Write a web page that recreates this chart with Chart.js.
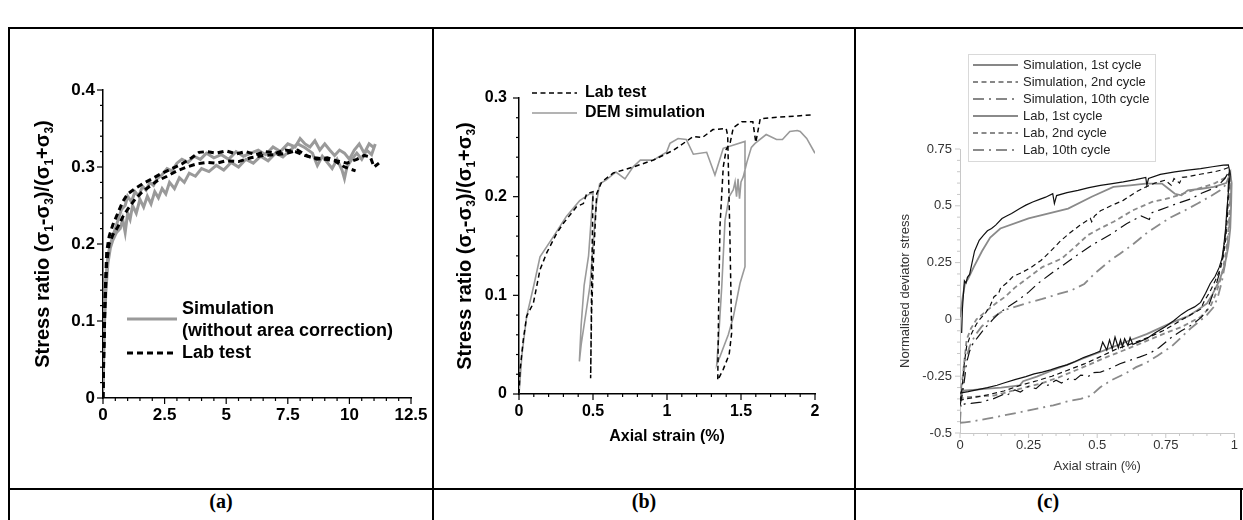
<!DOCTYPE html>
<html>
<head>
<meta charset="utf-8">
<script src="https://cdn.jsdelivr.net/npm/chart.js"></script>
<style>
  body { margin: 0; background: #fff; width: 1243px; height: 520px; overflow: hidden; position: relative; }
  canvas { position: absolute; left: 0; top: 0; }
  .ln { position: absolute; background: #000; }
  .cap { position: absolute; top: 490px; height: 30px; line-height: 30px; text-align: center;
         font: bold 20px "Liberation Serif", "Times New Roman", serif; color: #000; }
</style>
</head>
<body>
<!-- table frame -->
<div class="ln" style="left:8px;top:27px;width:1235px;height:2px"></div>
<div class="ln" style="left:8px;top:27px;width:2px;height:493px"></div>
<div class="ln" style="left:432px;top:27px;width:1.5px;height:493px"></div>
<div class="ln" style="left:854px;top:27px;width:1.5px;height:493px"></div>
<div class="ln" style="left:8px;top:488px;width:1235px;height:2px"></div>
<div class="ln" style="left:1240px;top:488px;width:2px;height:32px"></div>
<div class="cap" style="left:10px;width:422px">(a)</div>
<div class="cap" style="left:434px;width:420px">(b)</div>
<div class="cap" style="left:856px;width:384px">(c)</div>

<canvas id="ca" width="1243" height="520"></canvas>
<canvas id="cb" width="1243" height="520"></canvas>
<canvas id="cc" width="1243" height="520"></canvas>

<script>
const FONT = '"Liberation Sans", Arial, sans-serif';

/* =========================
   DATA (a) - monotonic test
========================= */
const simA1Strain = [0, 0.05, 0.1, 0.2, 0.3, 0.45, 0.6, 0.75, 0.9, 1.0, 1.15, 1.3, 1.45, 1.6, 1.75, 1.9, 2.05, 2.2, 2.4, 2.6, 2.8, 3.0, 3.2, 3.45, 3.7, 3.95, 4.2, 4.5, 4.8, 5.1, 5.4, 5.7, 6.0, 6.3, 6.6, 6.9, 7.2, 7.5, 7.8, 8.0, 8.2, 8.4, 8.6, 8.8, 9.0, 9.2, 9.4, 9.6, 9.8, 10.0, 10.2, 10.4, 10.6, 10.8, 11.0];
const simA1Ratio  = [0.02, 0.11, 0.15, 0.185, 0.2, 0.215, 0.23, 0.245, 0.25, 0.262, 0.255, 0.268, 0.262, 0.275, 0.27, 0.28, 0.276, 0.285, 0.29, 0.298, 0.295, 0.305, 0.31, 0.306, 0.314, 0.31, 0.318, 0.312, 0.316, 0.31, 0.32, 0.314, 0.318, 0.322, 0.316, 0.326, 0.32, 0.33, 0.326, 0.337, 0.33, 0.326, 0.334, 0.322, 0.33, 0.322, 0.315, 0.322, 0.318, 0.31, 0.322, 0.33, 0.318, 0.33, 0.325];

const simA2Strain = [0, 0.05, 0.12, 0.2, 0.3, 0.4, 0.55, 0.7, 0.8, 0.9, 1.0, 1.1, 1.2, 1.35, 1.5, 1.65, 1.8, 1.95, 2.1, 2.25, 2.4, 2.55, 2.7, 2.9, 3.1, 3.3, 3.5, 3.75, 4.0, 4.3, 4.6, 4.9, 5.2, 5.5, 5.8, 6.1, 6.4, 6.7, 7.0, 7.3, 7.6, 7.9, 8.2, 8.5, 8.7, 8.9, 9.1, 9.3, 9.5, 9.7, 9.8, 9.9, 10.1, 10.3, 10.5, 10.7, 10.9, 11.05];
const simA2Ratio  = [0.01, 0.09, 0.14, 0.175, 0.195, 0.205, 0.215, 0.22, 0.232, 0.215, 0.24, 0.232, 0.25, 0.24, 0.258, 0.248, 0.262, 0.252, 0.268, 0.26, 0.272, 0.265, 0.28, 0.272, 0.286, 0.28, 0.292, 0.288, 0.298, 0.294, 0.302, 0.296, 0.306, 0.3, 0.31, 0.305, 0.314, 0.308, 0.318, 0.313, 0.322, 0.33, 0.325, 0.318, 0.302, 0.314, 0.306, 0.298, 0.31, 0.296, 0.285, 0.3, 0.31, 0.318, 0.31, 0.322, 0.316, 0.33];

const labA1Strain = [0, 0.03, 0.08, 0.15, 0.25, 0.4, 0.6, 0.8, 1.0, 1.3, 1.6, 2.0, 2.4, 2.8, 3.2, 3.6, 3.9, 4.2, 4.6, 5.0, 5.4, 5.8, 6.2, 6.6, 7.0, 7.4, 7.8, 8.2, 8.6, 9.0, 9.4, 9.8, 10.25];
const labA1Ratio  = [0, 0.06, 0.13, 0.19, 0.21, 0.225, 0.24, 0.255, 0.265, 0.272, 0.278, 0.285, 0.292, 0.298, 0.304, 0.312, 0.319, 0.32, 0.318, 0.321, 0.317, 0.32, 0.316, 0.32, 0.318, 0.322, 0.32, 0.315, 0.312, 0.31, 0.308, 0.3, 0.295];

const labA2Strain = [0, 0.03, 0.08, 0.15, 0.25, 0.4, 0.6, 0.8, 1.0, 1.3, 1.6, 1.9, 2.2, 2.6, 3.0, 3.4, 3.8, 4.2, 4.6, 5.0, 5.5, 6.0, 6.5, 7.0, 7.5, 7.9, 8.3, 8.7, 9.1, 9.5, 9.9, 10.3, 10.6, 10.85, 11.0, 11.2];
const labA2Ratio  = [0, 0.05, 0.12, 0.175, 0.2, 0.212, 0.222, 0.235, 0.245, 0.258, 0.268, 0.275, 0.282, 0.288, 0.295, 0.3, 0.304, 0.306, 0.305, 0.308, 0.307, 0.312, 0.315, 0.316, 0.318, 0.322, 0.314, 0.31, 0.312, 0.308, 0.305, 0.31, 0.315, 0.313, 0.3, 0.305];

/* =========================
   DATA (b) - unload/reload
========================= */
const labBStrain = [0, 0.007, 0.029, 0.052, 0.097, 0.142, 0.187, 0.255, 0.30, 0.39, 0.435, 0.457, 0.50, 0.49, 0.484, 0.49, 0.503, 0.525, 0.559, 0.637, 0.77, 0.907, 1.043, 1.178, 1.24, 1.31, 1.40, 1.41, 1.425, 1.437, 1.42, 1.38, 1.343, 1.348, 1.358, 1.38, 1.40, 1.426, 1.448, 1.505, 1.58, 1.60, 1.63, 1.70, 1.80, 1.90, 1.99];
const labBRatio  = [0, 0.024, 0.055, 0.079, 0.092, 0.126, 0.143, 0.163, 0.173, 0.19, 0.193, 0.203, 0.205, 0.1, 0.016, 0.08, 0.136, 0.203, 0.215, 0.224, 0.23, 0.237, 0.247, 0.261, 0.26, 0.268, 0.269, 0.262, 0.16, 0.062, 0.04, 0.025, 0.014, 0.08, 0.17, 0.23, 0.248, 0.254, 0.27, 0.276, 0.276, 0.255, 0.279, 0.28, 0.281, 0.282, 0.283];

const demBStrain = [0, 0.02, 0.052, 0.1, 0.142, 0.23, 0.32, 0.41, 0.48, 0.50, 0.47, 0.44, 0.42, 0.408, 0.42, 0.45, 0.48, 0.50, 0.52, 0.545, 0.59, 0.655, 0.716, 0.77, 0.82, 0.907, 0.997, 1.02, 1.075, 1.13, 1.178, 1.268, 1.324, 1.38, 1.527, 1.527, 1.493, 1.448, 1.414, 1.358, 1.336, 1.347, 1.37, 1.392, 1.42, 1.448, 1.46, 1.47, 1.48, 1.49, 1.50, 1.515, 1.54, 1.57, 1.595, 1.67, 1.74, 1.78, 1.83, 1.88, 1.90, 1.944, 2.0];
const demBRatio  = [0, 0.04, 0.079, 0.11, 0.139, 0.159, 0.18, 0.196, 0.203, 0.203, 0.14, 0.11, 0.07, 0.033, 0.05, 0.08, 0.11, 0.15, 0.19, 0.213, 0.217, 0.225, 0.218, 0.23, 0.237, 0.237, 0.245, 0.254, 0.259, 0.258, 0.243, 0.245, 0.222, 0.249, 0.256, 0.129, 0.112, 0.078, 0.06, 0.038, 0.03, 0.053, 0.109, 0.176, 0.2, 0.207, 0.215, 0.2, 0.218, 0.198, 0.215, 0.22, 0.235, 0.25, 0.254, 0.263, 0.258, 0.258, 0.266, 0.267, 0.266, 0.259, 0.244];

/* =========================
   DATA (c) - cyclic loops [strain, normalised q]
========================= */
const simC1 = [[0.006,-0.06],[0.009,0.05],[0.016,0.17],[0.022,0.16],[0.027,0.185],[0.035,0.198],[0.044,0.25],[0.053,0.30],[0.07,0.348],[0.085,0.37],[0.1,0.39],[0.115,0.40],[0.13,0.415],[0.153,0.444],[0.17,0.455],[0.188,0.466],[0.218,0.488],[0.24,0.503],[0.265,0.517],[0.29,0.528],[0.312,0.538],[0.338,0.553],[0.344,0.51],[0.352,0.545],[0.39,0.558],[0.43,0.568],[0.47,0.58],[0.512,0.59],[0.555,0.598],[0.595,0.605],[0.64,0.615],[0.677,0.625],[0.681,0.59],[0.687,0.62],[0.73,0.638],[0.783,0.649],[0.83,0.657],[0.877,0.664],[0.92,0.672],[0.96,0.679],[0.978,0.68],
  [0.985,0.64],[0.978,0.56],[0.972,0.47],[0.968,0.40],[0.962,0.33],[0.955,0.27],[0.945,0.23],[0.93,0.19],[0.912,0.158],[0.895,0.115],[0.877,0.075],[0.855,0.055],[0.83,0.04],[0.807,0.022],[0.78,-0.005],[0.748,-0.032],[0.71,-0.06],[0.68,-0.085],[0.65,-0.1],[0.63,-0.11],[0.62,-0.08],[0.612,-0.115],[0.6,-0.085],[0.592,-0.12],[0.585,-0.09],[0.577,-0.125],[0.565,-0.078],[0.555,-0.13],[0.545,-0.09],[0.535,-0.135],[0.52,-0.1],[0.51,-0.14],[0.49,-0.15],[0.45,-0.168],[0.42,-0.185],[0.39,-0.2],[0.36,-0.21],[0.33,-0.222],[0.3,-0.232],[0.27,-0.24],[0.24,-0.252],[0.2,-0.265],[0.16,-0.28],[0.135,-0.29],[0.1,-0.3],[0.06,-0.31],[0.03,-0.318],[0.01,-0.322],[0,-0.325]];

const simC2 = [[0,-0.36],[0.008,-0.3],[0.015,-0.2],[0.024,-0.12],[0.035,-0.08],[0.047,-0.05],[0.06,-0.02],[0.072,0.0],[0.094,0.03],[0.11,0.06],[0.124,0.1],[0.141,0.115],[0.148,0.139],[0.17,0.16],[0.194,0.19],[0.224,0.205],[0.26,0.23],[0.295,0.259],[0.33,0.3],[0.366,0.345],[0.4,0.38],[0.437,0.414],[0.475,0.445],[0.48,0.43],[0.49,0.455],[0.512,0.478],[0.55,0.5],[0.595,0.524],[0.64,0.56],[0.677,0.583],[0.71,0.6],[0.748,0.613],[0.77,0.59],[0.78,0.62],[0.8,0.6],[0.81,0.625],[0.83,0.628],[0.88,0.64],[0.925,0.649],[0.96,0.66],[0.982,0.67],
  [0.98,0.6],[0.975,0.46],[0.968,0.35],[0.96,0.28],[0.948,0.22],[0.93,0.17],[0.91,0.12],[0.89,0.08],[0.877,0.045],[0.84,0.02],[0.81,0.0],[0.783,-0.02],[0.74,-0.05],[0.689,-0.078],[0.63,-0.105],[0.571,-0.13],[0.51,-0.165],[0.453,-0.196],[0.39,-0.225],[0.335,-0.25],[0.28,-0.27],[0.22,-0.29],[0.16,-0.315],[0.1,-0.332],[0.05,-0.344],[0.018,-0.35],[0,-0.357]];

const simC10 = [[0,-0.38],[0.01,-0.32],[0.018,-0.25],[0.024,-0.19],[0.035,-0.14],[0.047,-0.107],[0.07,-0.07],[0.094,-0.034],[0.12,0.0],[0.141,0.026],[0.175,0.055],[0.212,0.085],[0.25,0.12],[0.283,0.157],[0.33,0.2],[0.383,0.245],[0.435,0.29],[0.489,0.333],[0.55,0.375],[0.607,0.421],[0.66,0.455],[0.69,0.44],[0.7,0.47],[0.724,0.48],[0.78,0.505],[0.842,0.531],[0.88,0.555],[0.936,0.583],[0.965,0.62],[0.98,0.65],
  [0.975,0.5],[0.968,0.38],[0.958,0.28],[0.945,0.2],[0.93,0.14],[0.915,0.09],[0.9,0.04],[0.88,0.01],[0.85,-0.02],[0.807,-0.05],[0.77,-0.08],[0.725,-0.125],[0.69,-0.15],[0.654,-0.166],[0.62,-0.18],[0.583,-0.195],[0.55,-0.215],[0.512,-0.232],[0.48,-0.235],[0.47,-0.25],[0.44,-0.245],[0.42,-0.265],[0.395,-0.262],[0.37,-0.28],[0.35,-0.268],[0.32,-0.29],[0.3,-0.28],[0.277,-0.305],[0.25,-0.295],[0.22,-0.32],[0.2,-0.31],[0.17,-0.335],[0.159,-0.33],[0.12,-0.35],[0.077,-0.364],[0.04,-0.37],[0.018,-0.372],[0,-0.38]];

const labC1 = [[0,0.01],[0.01,0.1],[0.018,0.157],[0.03,0.18],[0.05,0.23],[0.08,0.3],[0.11,0.36],[0.147,0.40],[0.25,0.445],[0.394,0.488],[0.48,0.54],[0.559,0.583],[0.62,0.59],[0.677,0.598],[0.736,0.598],[0.76,0.575],[0.783,0.553],[0.807,0.546],[0.83,0.568],[0.88,0.575],[0.925,0.583],[0.97,0.6],[0.985,0.64],
  [0.99,0.6],[0.988,0.5],[0.985,0.4],[0.978,0.32],[0.965,0.24],[0.945,0.17],[0.92,0.11],[0.9,0.07],[0.865,0.04],[0.83,0.013],[0.78,-0.01],[0.736,-0.034],[0.68,-0.065],[0.618,-0.093],[0.54,-0.13],[0.453,-0.17],[0.39,-0.2],[0.335,-0.225],[0.28,-0.252],[0.23,-0.272],[0.218,-0.29],[0.15,-0.3],[0.1,-0.305],[0.05,-0.31],[0.018,-0.313],[0,-0.32]];

const labC2 = [[0,-0.34],[0.01,-0.25],[0.024,-0.09],[0.04,-0.04],[0.06,0.0],[0.094,0.035],[0.13,0.07],[0.165,0.1],[0.2,0.14],[0.25,0.185],[0.3,0.23],[0.371,0.268],[0.42,0.32],[0.465,0.37],[0.51,0.4],[0.56,0.43],[0.63,0.48],[0.7,0.517],[0.75,0.53],[0.795,0.546],[0.84,0.565],[0.889,0.583],[0.93,0.6],[0.972,0.627],[0.985,0.65],
  [0.985,0.55],[0.98,0.42],[0.97,0.3],[0.955,0.2],[0.935,0.12],[0.912,0.055],[0.877,0.011],[0.807,-0.034],[0.76,-0.055],[0.713,-0.078],[0.66,-0.105],[0.595,-0.137],[0.53,-0.168],[0.477,-0.196],[0.42,-0.225],[0.36,-0.255],[0.3,-0.28],[0.22,-0.305],[0.124,-0.335],[0.06,-0.34],[0.018,-0.343],[0,-0.35]];

const labC10 = [[0,-0.455],[0.005,-0.35],[0.012,-0.25],[0.02,-0.18],[0.035,-0.12],[0.055,-0.07],[0.08,-0.03],[0.11,0.0],[0.159,0.04],[0.2,0.055],[0.253,0.075],[0.3,0.09],[0.359,0.112],[0.406,0.128],[0.453,0.156],[0.489,0.2],[0.548,0.26],[0.583,0.289],[0.63,0.33],[0.677,0.377],[0.73,0.42],[0.771,0.451],[0.82,0.48],[0.866,0.51],[0.91,0.54],[0.948,0.568],[0.975,0.6],[0.985,0.63],
  [0.985,0.5],[0.98,0.38],[0.97,0.27],[0.955,0.17],[0.94,0.1],[0.925,0.055],[0.9,0.02],[0.877,-0.004],[0.84,-0.04],[0.807,-0.078],[0.77,-0.12],[0.72,-0.16],[0.68,-0.19],[0.642,-0.21],[0.6,-0.24],[0.548,-0.27],[0.51,-0.3],[0.477,-0.336],[0.44,-0.35],[0.395,-0.36],[0.34,-0.378],[0.277,-0.394],[0.22,-0.408],[0.159,-0.423],[0.1,-0.437],[0.04,-0.45],[0.018,-0.453],[0,-0.455]];

const legendC = ["Simulation, 1st cycle", "Simulation, 2nd cycle", "Simulation, 10th cycle", "Lab, 1st cycle", "Lab, 2nd cycle", "Lab, 10th cycle"];

/* =========================
   HELPERS
========================= */
Chart.defaults.font.family = FONT;
Chart.defaults.animation = false;

function xy(xs, ys) { return xs.map((x, i) => ({ x: x, y: ys[i] })); }
function pairs(list) { return list.map(p => ({ x: p[0], y: p[1] })); }

function series(label, data, color, width, dash) {
  return {
    label: label, data: data, showLine: true,
    borderColor: color, borderWidth: width, borderDash: dash || [],
    pointRadius: 0, pointHoverRadius: 0, fill: false, tension: 0
  };
}

function axis(o) {
  return {
    type: "linear", min: o.min, max: o.max,
    afterFit: s => { if (s.isHorizontal()) s.height = 30; else s.width = 60; },
    grid: { display: false, drawTicks: false },
    border: { display: true, color: o.line, width: o.lineWidth },
    ticks: {
      stepSize: o.step, padding: o.pad, color: o.color, font: o.font, maxRotation: 0, autoSkip: false,
      callback: v => String(parseFloat(v.toFixed(3)))
    }
  };
}

// major + minor tick marks drawn on the outside of both axes
const tickMarks = {
  id: "tickMarks",
  afterDraw(chart, args, o) {
    const ctx = chart.ctx, a = chart.chartArea;
    ctx.save();
    ctx.strokeStyle = o.color;
    ctx.lineWidth = o.width;
    ["x", "y"].forEach(k => {
      const s = chart.scales[k], st = o[k];
      const n = Math.round((s.max - s.min) / st.minor);
      for (let i = 0; i <= n; i++) {
        const v = s.min + i * st.minor;
        const r = v / st.major;
        const len = Math.abs(r - Math.round(r)) < 1e-6 ? o.majorLen : o.minorLen;
        const p = s.getPixelForValue(v);
        ctx.beginPath();
        if (k === "x") { ctx.moveTo(p, a.bottom); ctx.lineTo(p, a.bottom + len); }
        else { ctx.moveTo(a.left, p); ctx.lineTo(a.left - len, p); }
        ctx.stroke();
      }
    });
    ctx.restore();
  }
};

function sample(ctx, ds, x1, x2, y) {
  ctx.save();
  ctx.strokeStyle = ds.borderColor;
  ctx.lineWidth = ds.borderWidth;
  ctx.setLineDash(ds.borderDash);
  ctx.beginPath();
  ctx.moveTo(x1, y);
  ctx.lineTo(x2, y);
  ctx.stroke();
  ctx.restore();
}

function label(ctx, s, x, y, font, color, align) {
  ctx.save();
  ctx.font = font;
  ctx.fillStyle = color;
  ctx.textAlign = align || "left";
  ctx.textBaseline = "middle";
  ctx.fillText(s, x, y);
  ctx.restore();
}

function vlabel(ctx, s, x, y, font, color) {
  ctx.save();
  ctx.translate(x, y);
  ctx.rotate(-Math.PI / 2);
  label(ctx, s, 0, 0, font, color, "center");
  ctx.restore();
}

// rotated "Stress ratio (σ1-σ3)/(σ1+σ3)" with real subscripts
function stressTitle(ctx, cx, cy, size) {
  const parts = [["Stress ratio (\u03c3", 0], ["1", 1], ["-\u03c3", 0], ["3", 1], [")/(\u03c3", 0], ["1", 1], ["+\u03c3", 0], ["3", 1], [")", 0]];
  const big = "bold " + size + "px " + FONT;
  const small = "bold " + Math.round(size * 0.6) + "px " + FONT;
  ctx.save();
  ctx.translate(cx, cy);
  ctx.rotate(-Math.PI / 2);
  ctx.fillStyle = "#000";
  ctx.textAlign = "left";
  ctx.textBaseline = "alphabetic";
  let w = 0;
  parts.forEach(p => { ctx.font = p[1] ? small : big; w += ctx.measureText(p[0]).width; });
  let x = -w / 2;
  parts.forEach(p => {
    ctx.font = p[1] ? small : big;
    ctx.fillText(p[0], x, size * 0.36 + (p[1] ? size * 0.2 : 0));
    x += ctx.measureText(p[0]).width;
  });
  ctx.restore();
}

/* =========================
   CHART (a)
========================= */
const boldA = { size: 17, weight: "bold" };

new Chart(document.getElementById("ca"), {
  type: "scatter",
  data: {
    datasets: [
      series("Lab test", xy(labA1Strain, labA1Ratio), "#000", 3, [6, 4]),
      series("Lab test 2", xy(labA2Strain, labA2Ratio), "#000", 3, [6, 4]),
      series("Simulation", xy(simA1Strain, simA1Ratio), "#9a9a9a", 3),
      series("Simulation 2", xy(simA2Strain, simA2Ratio), "#9a9a9a", 3)
    ]
  },
  options: {
    responsive: false,
    devicePixelRatio: 1,
    layout: { autoPadding: false, padding: { left: 43, right: 832, top: 90, bottom: 92 } },
    scales: {
      x: axis({ min: 0, max: 12.5, step: 2.5, pad: 7, color: "#000", font: boldA, line: "#000", lineWidth: 1.5 }),
      y: axis({ min: 0, max: 0.4, step: 0.1, pad: 8, color: "#000", font: boldA, line: "#000", lineWidth: 1.5 })
    },
    plugins: {
      legend: { display: false },
      tooltip: { enabled: false },
      tickMarks: { color: "#000", width: 1.2, majorLen: 6, minorLen: 3, x: { minor: 0.5, major: 2.5 }, y: { minor: 0.02, major: 0.1 } }
    }
  },
  plugins: [tickMarks, {
    id: "decorA",
    afterDraw(chart) {
      const ctx = chart.ctx, a = chart.chartArea, ds = chart.data.datasets;
      const f = "bold 18px " + FONT;
      stressTitle(ctx, 42, (a.top + a.bottom) / 2, 20);
      sample(ctx, ds[2], 127, 177, 319);
      label(ctx, "Simulation", 182, 309, f, "#000");
      label(ctx, "(without area correction)", 182, 331, f, "#000");
      sample(ctx, ds[0], 127, 177, 353);
      label(ctx, "Lab test", 182, 353, f, "#000");
    }
  }]
});

/* =========================
   CHART (b)
========================= */
const boldB = { size: 16, weight: "bold" };

new Chart(document.getElementById("cb"), {
  type: "scatter",
  data: {
    datasets: [
      series("Lab test", xy(labBStrain, labBRatio), "#000", 1.5, [5, 3.5]),
      series("DEM simulation", xy(demBStrain, demBRatio), "#9a9a9a", 1.6)
    ]
  },
  options: {
    responsive: false,
    devicePixelRatio: 1,
    layout: { autoPadding: false, padding: { left: 459, right: 428, top: 98, bottom: 96 } },
    scales: {
      x: axis({ min: 0, max: 2, step: 0.5, pad: 8, color: "#000", font: boldB, line: "#000", lineWidth: 1.5 }),
      y: axis({ min: 0, max: 0.3, step: 0.1, pad: 12, color: "#000", font: boldB, line: "#000", lineWidth: 1.5 })
    },
    plugins: {
      legend: { display: false },
      tooltip: { enabled: false },
      tickMarks: { color: "#000", width: 1.2, majorLen: 6, minorLen: 3, x: { minor: 0.1, major: 0.5 }, y: { minor: 0.02, major: 0.1 } }
    }
  },
  plugins: [tickMarks, {
    id: "decorB",
    afterDraw(chart) {
      const ctx = chart.ctx, a = chart.chartArea, ds = chart.data.datasets;
      const f = "bold 16px " + FONT;
      stressTitle(ctx, 464, (a.top + a.bottom) / 2, 20);
      label(ctx, "Axial strain (%)", (a.left + a.right) / 2, 437, f, "#000", "center");
      sample(ctx, ds[0], 532, 577, 93);
      label(ctx, "Lab test", 585, 93, f, "#000");
      sample(ctx, ds[1], 532, 577, 113);
      label(ctx, "DEM simulation", 585, 113, f, "#000");
    }
  }]
});

/* =========================
   CHART (c)
========================= */
const regC = { size: 13 };
const darkC = "#111", greyC = "#8a8a8a";
const dashC = [5, 3.5], dotDashC = [11, 5, 2, 5];

new Chart(document.getElementById("cc"), {
  type: "scatter",
  data: {
    datasets: [
      series(legendC[0], pairs(simC1), darkC, 1.2),
      series(legendC[1], pairs(simC2), darkC, 1.2, dashC),
      series(legendC[2], pairs(simC10), darkC, 1.2, dotDashC),
      series(legendC[3], pairs(labC1), greyC, 1.8),
      series(legendC[4], pairs(labC2), greyC, 1.8, dashC),
      series(legendC[5], pairs(labC10), greyC, 1.8, dotDashC)
    ]
  },
  options: {
    responsive: false,
    devicePixelRatio: 1,
    layout: { autoPadding: false, padding: { left: 900, right: 0, top: 149, bottom: 57 } },
    scales: {
      x: axis({ min: 0, max: 1, step: 0.25, pad: 5, color: "#333", font: regC, line: "#c8c8c8", lineWidth: 1 }),
      y: axis({ min: -0.5, max: 0.75, step: 0.25, pad: 8, color: "#333", font: regC, line: "#c8c8c8", lineWidth: 1 })
    },
    plugins: {
      legend: { display: false },
      tooltip: { enabled: false },
      tickMarks: { color: "#c8c8c8", width: 1, majorLen: 5, minorLen: 3, x: { minor: 0.05, major: 0.25 }, y: { minor: 0.05, major: 0.25 } }
    }
  },
  plugins: [tickMarks, {
    id: "decorC",
    afterDraw(chart) {
      const ctx = chart.ctx, a = chart.chartArea, ds = chart.data.datasets;
      const f = "13px " + FONT;
      vlabel(ctx, "Normalised deviator stress", 905, (a.top + a.bottom) / 2, f, "#333");
      label(ctx, "Axial strain (%)", (a.left + a.right) / 2, 466, f, "#333", "center");
      ctx.save();
      ctx.fillStyle = "#fff";
      ctx.strokeStyle = "#d9d9d9";
      ctx.lineWidth = 1;
      ctx.fillRect(968.5, 54.5, 187, 107);
      ctx.strokeRect(968.5, 54.5, 187, 107);
      ctx.restore();
      ds.forEach((d, i) => {
        const y = 65 + i * 17;
        sample(ctx, d, 973, 1018, y);
        label(ctx, d.label, 1023, y, f, "#222");
      });
    }
  }]
});
</script>
</body>
</html>
